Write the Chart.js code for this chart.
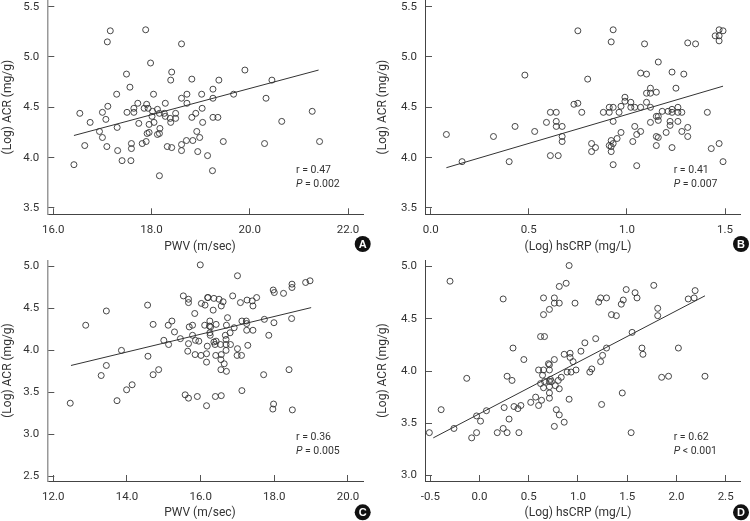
<!DOCTYPE html>
<html>
<head>
<meta charset="utf-8">
<title>ACR correlations</title>
<script src="https://cdn.jsdelivr.net/npm/chart.js@4/dist/chart.umd.js"></script>
<style>
    html, body { margin: 0; padding: 0; background: #fff; }
    #wrap { position: relative; width: 750px; height: 521px; overflow: hidden; }
    canvas { position: absolute; }
</style>
</head>
<body>
<div id="wrap">
    <canvas id="panelA" width="375" height="260" style="left:0;top:0"></canvas>
    <canvas id="panelB" width="375" height="260" style="left:375px;top:0"></canvas>
    <canvas id="panelC" width="375" height="261" style="left:0;top:260px"></canvas>
    <canvas id="panelD" width="375" height="261" style="left:375px;top:260px"></canvas>
</div>
<script>
// Panel A: PWV vs ACR
const pwvA = [16.42,16.54,16.64,16.75,16.94,17.00,17.00,17.07,17.09,17.10,17.11,17.16,17.29,17.30,17.31,17.40,17.49,17.50,17.56,17.58,17.59,17.59,17.64,17.64,17.72,17.74,17.81,17.85,17.88,17.89,17.90,17.91,17.93,17.95,17.95,17.98,18.01,18.02,18.04,18.05,18.12,18.12,18.16,18.16,18.16,18.17,18.26,18.28,18.28,18.32,18.38,18.39,18.39,18.41,18.41,18.49,18.49,18.61,18.61,18.61,18.61,18.71,18.72,18.72,18.82,18.82,18.84,18.90,18.92,18.94,18.98,19.02,19.03,19.04,19.14,19.24,19.25,19.25,19.25,19.35,19.37,19.46,19.67,19.90,20.30,20.33,20.45,20.65,21.27,21.42];
const acrA = [3.93,4.44,4.12,4.35,4.26,4.45,4.20,4.38,4.11,5.15,4.51,5.26,4.63,4.30,4.07,3.97,4.83,4.45,4.70,3.97,4.14,4.09,4.49,4.45,4.54,4.34,4.14,4.49,5.27,4.16,4.53,4.24,4.49,4.33,4.25,4.94,4.41,4.46,4.63,4.35,4.23,4.48,4.44,3.82,4.24,4.29,4.44,4.41,4.54,4.11,4.39,4.35,4.77,4.85,4.10,4.44,4.39,5.13,4.59,4.13,4.07,4.17,4.63,4.54,4.78,4.40,4.17,4.44,4.26,4.06,4.20,4.63,4.49,4.35,4.02,3.87,4.59,4.68,4.40,4.40,4.77,4.16,4.63,4.87,4.14,4.59,4.77,4.36,4.46,4.16];
const fitXA = [16.42, 21.40];
const fitYA = [4.22, 4.87];

// Panel B: hsCRP vs ACR
const crpB = [0.08,0.16,0.32,0.40,0.43,0.48,0.53,0.59,0.61,0.61,0.64,0.64,0.64,0.65,0.67,0.67,0.67,0.73,0.75,0.75,0.77,0.80,0.82,0.82,0.84,0.88,0.91,0.91,0.91,0.92,0.92,0.92,0.93,0.93,0.92,0.93,0.93,0.93,0.95,0.96,0.97,0.97,0.99,0.99,1.02,1.02,1.03,1.04,1.04,1.05,1.05,1.07,1.07,1.07,1.09,1.10,1.10,1.10,1.12,1.12,1.12,1.12,1.15,1.15,1.15,1.15,1.16,1.16,1.16,1.16,1.18,1.20,1.21,1.22,1.22,1.23,1.23,1.23,1.23,1.25,1.26,1.26,1.26,1.28,1.28,1.29,1.31,1.31,1.31,1.35,1.41,1.43,1.45,1.47,1.47,1.47,1.47,1.49,1.49];
const acrB = [4.23,3.96,4.21,3.96,4.31,4.82,4.26,4.35,4.45,4.02,4.45,4.36,4.31,4.02,4.31,4.21,4.16,4.53,4.54,5.26,4.45,4.78,4.14,4.06,4.10,4.45,4.50,4.45,4.12,4.17,4.11,4.06,4.14,3.93,5.15,4.50,4.36,5.27,4.19,4.45,4.51,4.25,4.60,4.56,4.50,4.55,4.16,4.31,4.50,3.92,4.23,4.26,4.84,4.50,5.13,4.64,4.83,4.55,4.69,4.64,4.50,4.35,4.41,4.65,4.21,4.12,4.20,4.95,4.41,4.37,4.46,4.25,4.46,4.36,4.32,4.48,4.45,4.10,4.85,4.69,4.45,4.36,4.50,4.26,4.45,4.83,5.14,4.30,4.21,5.13,4.45,4.09,5.21,5.21,5.27,5.16,4.14,5.26,3.96];
const fitXB = [0.08, 1.49];
const fitYB = [3.90, 4.71];

// Panel C: PWV vs ACR
const pwvC = [12.46,12.88,13.30,13.44,13.44,13.73,13.85,13.99,14.14,14.56,14.57,14.71,14.71,14.86,15.00,15.13,15.12,15.22,15.29,15.45,15.53,15.58,15.65,15.67,15.67,15.67,15.67,15.69,15.78,15.78,15.84,15.85,15.86,15.91,15.95,15.99,16.01,16.02,16.12,16.11,16.16,16.16,16.16,16.18,16.20,16.19,16.24,16.25,16.25,16.27,16.26,16.34,16.36,16.36,16.42,16.41,16.42,16.40,16.39,16.50,16.54,16.56,16.56,16.55,16.55,16.56,16.61,16.64,16.69,16.69,16.67,16.70,16.70,16.69,16.73,16.80,16.81,16.87,16.91,16.99,17.00,17.00,17.08,17.11,17.12,17.12,17.24,17.25,17.26,17.25,17.28,17.40,17.42,17.42,17.52,17.71,17.73,17.85,17.96,17.98,17.97,18.00,17.99,18.25,18.40,18.48,18.48,18.47,18.49,18.85,18.97];
const acrC = [3.37,4.30,3.70,4.47,3.82,3.40,4.00,3.53,3.59,4.54,3.93,4.31,3.71,3.77,4.12,4.07,4.30,4.35,4.22,4.14,4.65,3.47,3.99,4.61,4.57,3.43,4.08,4.28,4.30,4.18,4.44,3.95,4.12,3.45,4.11,5.02,3.94,4.56,4.54,4.30,3.86,3.34,3.96,4.05,4.63,4.63,4.29,4.35,4.21,4.28,4.18,4.48,4.62,4.10,4.31,3.94,4.11,3.45,4.07,4.61,4.07,4.53,3.95,3.89,3.77,3.46,4.58,3.84,4.00,4.07,4.18,4.30,3.75,4.13,4.39,4.21,4.07,4.65,4.27,3.94,4.89,4.02,4.57,3.94,4.35,3.52,4.35,4.32,4.60,4.24,4.06,4.59,4.53,4.24,4.63,3.71,4.37,4.18,3.30,3.36,4.72,4.69,4.33,4.68,3.77,4.79,4.75,4.38,3.29,4.81,4.83];
const fitXC = [12.48, 19.00];
const fitYC = [3.82, 4.51];

// Panel D: hsCRP vs ACR
const crpD = [-0.51,-0.39,-0.30,-0.26,-0.13,-0.08,-0.03,-0.03,0.01,0.07,0.18,0.24,0.24,0.25,0.28,0.28,0.30,0.33,0.34,0.35,0.39,0.40,0.42,0.45,0.52,0.57,0.60,0.60,0.62,0.62,0.63,0.64,0.65,0.65,0.65,0.66,0.65,0.66,0.70,0.71,0.71,0.71,0.71,0.71,0.71,0.71,0.72,0.73,0.76,0.76,0.76,0.76,0.77,0.78,0.80,0.81,0.81,0.81,0.81,0.83,0.86,0.86,0.88,0.89,0.91,0.91,0.92,0.92,0.93,0.95,0.97,0.98,1.03,1.07,1.12,1.14,1.18,1.21,1.23,1.23,1.24,1.25,1.29,1.29,1.34,1.39,1.44,1.46,1.45,1.49,1.54,1.55,1.58,1.60,1.65,1.66,1.77,1.81,1.81,1.85,1.92,2.02,2.12,2.18,2.19,2.29];
const acrD = [3.41,3.63,4.86,3.45,3.93,3.36,3.41,3.57,3.52,3.62,3.41,4.69,3.45,3.65,3.95,3.41,3.54,3.91,4.22,3.66,3.64,3.41,3.67,4.11,3.70,3.75,4.01,3.67,4.33,3.88,3.72,3.96,4.54,4.70,4.01,4.33,3.84,3.90,4.07,4.59,4.01,4.06,3.90,3.85,3.79,3.74,3.92,3.90,4.70,4.65,4.11,3.47,3.86,3.63,3.91,4.65,4.81,3.83,3.58,3.94,4.16,3.51,4.84,3.99,5.01,3.73,4.17,4.13,3.99,4.09,4.65,4.01,4.19,4.27,3.99,4.02,4.31,4.66,4.70,4.09,3.68,4.15,4.70,4.22,4.54,4.53,4.64,4.68,3.79,4.78,3.41,4.37,4.75,4.70,4.22,4.16,4.82,4.60,4.53,3.94,3.95,4.22,4.69,4.70,4.77,3.95];
const fitXD = [-0.47, 2.29];
const fitYD = [3.36, 4.72];

// Tick labels
const xTicksA = [16, 18, 20, 22];
const xTicksB = [0, 0.5, 1, 1.5];
const xTicksC = [12, 14, 16, 18, 20];
const xTicksD = [-0.5, 0, 0.5, 1, 1.5, 2, 2.5];
const yTicksTop = [3.5, 4, 4.5, 5, 5.5];
const yTicksC = [2.5, 3, 3.5, 4, 4.5, 5];
const yTicksD = [3, 3.5, 4, 4.5, 5];

const FONT = "Roboto, 'Liberation Sans', Arial, sans-serif";
const INK = '#333333';

// Extra text: x title, r / P note and the panel badge
const panelNotes = {
    id: 'panelNotes',
    afterDraw(chart, args, opts) {
        const ctx = chart.ctx;
        ctx.save();
        ctx.fillStyle = INK;
        ctx.textBaseline = 'middle';

        ctx.textAlign = 'center';
        ctx.font = `12px ${FONT}`;
        ctx.fillText(opts.xTitle, opts.xTitleX, opts.xTitleY);

        ctx.textAlign = 'left';
        ctx.font = `10.5px ${FONT}`;
        ctx.fillText(opts.r, opts.noteX, opts.noteY);
        ctx.font = `italic 10.5px ${FONT}`;
        ctx.fillText('P', opts.noteX, opts.noteY + 13.3);
        const pWidth = ctx.measureText('P ').width;
        ctx.font = `10.5px ${FONT}`;
        ctx.fillText(opts.p, opts.noteX + pWidth, opts.noteY + 13.3);

        ctx.fillStyle = '#111';
        ctx.beginPath();
        ctx.arc(opts.badgeX, opts.badgeY, 8, 0, Math.PI * 2);
        ctx.fill();
        ctx.fillStyle = '#fff';
        ctx.textAlign = 'center';
        ctx.font = "bold 11px 'Liberation Sans', Arial, sans-serif";
        ctx.fillText(opts.letter, opts.badgeX, opts.badgeY + 0.5);
        ctx.restore();
    }
};

function makePanel(cfg) {
    const pts = cfg.xs.map((x, i) => ({ x: x, y: cfg.ys[i] }));
    const fit = cfg.fitX.map((x, i) => ({ x: x, y: cfg.fitY[i] }));
    const canvas = document.getElementById(cfg.id);

    new Chart(canvas, {
        type: 'scatter',
        data: {
            datasets: [{
                data: pts,
                backgroundColor: 'rgba(255,255,255,0)',
                borderColor: INK,
                borderWidth: 0.9,
                pointRadius: 3,
                clip: false
            }, {
                data: fit,
                showLine: true,
                pointRadius: 0,
                borderColor: INK,
                borderWidth: 1,
                fill: false
            }]
        },
        options: {
            responsive: false,
            animation: false,
            layout: { autoPadding: false, padding: { right: canvas.width - cfg.right, top: 0, left: 0, bottom: 0 } },
            plugins: {
                legend: { display: false },
                tooltip: { enabled: false },
                panelNotes: cfg.notes
            },
            scales: {
                x: {
                    type: 'linear',
                    min: cfg.xMin,
                    max: cfg.xMax,
                    afterBuildTicks: (s) => { s.ticks = cfg.xTicks.map(v => ({ value: v })); },
                    afterFit: (s) => {
                        s.height = canvas.height - cfg.bottom;
                        s.paddingLeft = 0;
                        s.paddingRight = 0;
                    },
                    border: { color: '#444', width: 1 },
                    grid: { drawOnChartArea: false, tickLength: -6, color: '#555', lineWidth: 1 },
                    ticks: {
                        padding: 15,
                        autoSkip: false,
                        maxRotation: 0,
                        color: INK,
                        font: { family: FONT, size: 11.5 },
                        callback: (v) => v.toFixed(1)
                    }
                },
                y: {
                    type: 'linear',
                    min: cfg.yMin,
                    max: cfg.yMax,
                    afterBuildTicks: (s) => { s.ticks = cfg.yTicks.map(v => ({ value: v })); },
                    afterFit: (s) => {
                        s.width = cfg.left;
                        s.paddingTop = 0;
                        s.paddingBottom = 0;
                    },
                    border: { color: cfg.yAxisColor, width: cfg.yAxisWidth },
                    grid: { drawOnChartArea: false, tickLength: -7, color: '#555', lineWidth: 1 },
                    title: {
                        display: true,
                        text: '(Log) ACR (mg/g)',
                        color: INK,
                        font: { family: FONT, size: 12 },
                        padding: { top: 1, bottom: 0 }
                    },
                    ticks: {
                        padding: 15,
                        autoSkip: false,
                        color: INK,
                        font: { family: FONT, size: 11.5 },
                        callback: (v) => v.toFixed(1)
                    }
                }
            }
        },
        plugins: [panelNotes]
    });
}

makePanel({
    id: 'panelA', xs: pwvA, ys: acrA, fitX: fitXA, fitY: fitYA, xTicks: xTicksA, yTicks: yTicksTop,
    left: 47.3, right: 363.3, bottom: 214.3,
    xMin: 15.878, xMax: 22.31, yMin: 3.437, yMax: 5.566,
    yAxisColor: '#999', yAxisWidth: 1.5,
    notes: { xTitle: 'PWV (m/sec)', xTitleX: 200, xTitleY: 246.5, r: 'r = 0.47', p: '= 0.002', noteX: 296, noteY: 170.7, badgeX: 362.7, badgeY: 244, letter: 'A' }
});

makePanel({
    id: 'panelB', xs: crpB, ys: acrB, fitX: fitXB, fitY: fitYB, xTicks: xTicksB, yTicks: yTicksTop,
    left: 50, right: 365.7, bottom: 214.3,
    xMin: -0.029, xMax: 1.58, yMin: 3.437, yMax: 5.566,
    yAxisColor: '#444', yAxisWidth: 1,
    notes: { xTitle: '(Log) hsCRP (mg/L)', xTitleX: 203, xTitleY: 246.5, r: 'r = 0.41', p: '= 0.007', noteX: 298.7, noteY: 170.7, badgeX: 366, badgeY: 244, letter: 'B' }
});

makePanel({
    id: 'panelC', xs: pwvC, ys: acrC, fitX: fitXC, fitY: fitYC, xTicks: xTicksC, yTicks: yTicksC,
    left: 47.3, right: 363.3, bottom: 221,
    xMin: 11.837, xMax: 20.416, yMin: 2.442, yMax: 5.078,
    yAxisColor: '#999', yAxisWidth: 1.5,
    notes: { xTitle: 'PWV (m/sec)', xTitleX: 200, xTitleY: 253.3, r: 'r = 0.36', p: '= 0.005', noteX: 296, noteY: 177.7, badgeX: 362.7, badgeY: 252.3, letter: 'C' }
});

makePanel({
    id: 'panelD', xs: crpD, ys: acrD, fitX: fitXD, fitY: fitYD, xTicks: xTicksD, yTicks: yTicksD,
    left: 50, right: 365.7, bottom: 221,
    xMin: -0.554, xMax: 2.653, yMin: 2.947, yMax: 5.063,
    yAxisColor: '#444', yAxisWidth: 1,
    notes: { xTitle: '(Log) hsCRP (mg/L)', xTitleX: 203, xTitleY: 253.3, r: 'r = 0.62', p: '< 0.001', noteX: 298.7, noteY: 177.7, badgeX: 366, badgeY: 252.3, letter: 'D' }
});
</script>
</body>
</html>
